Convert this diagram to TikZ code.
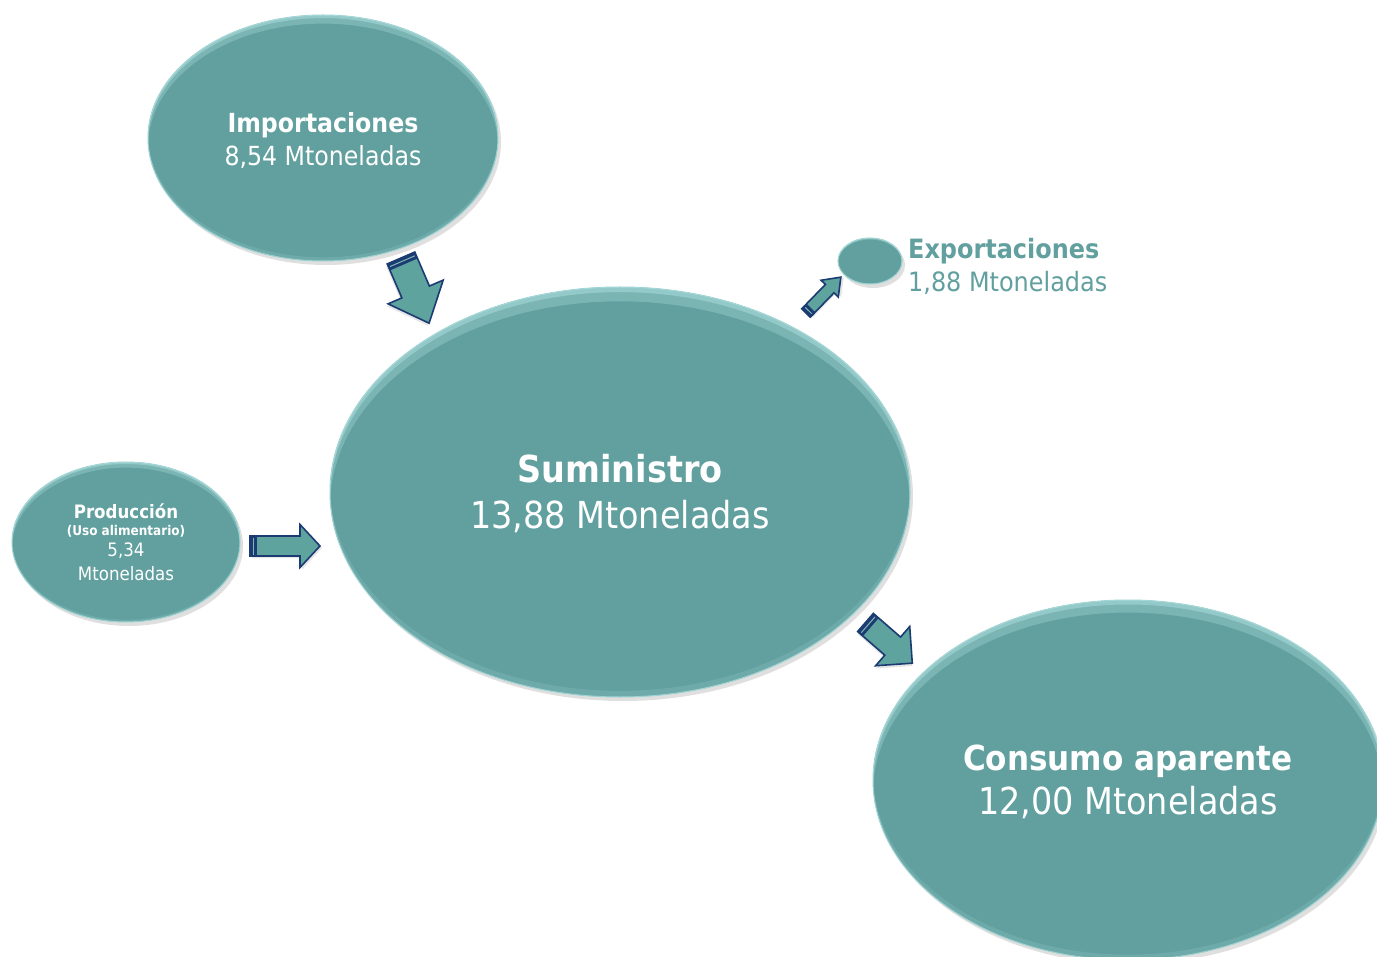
\documentclass[tikz,border=0pt]{standalone}
\usepackage{fontspec}
\setmainfont{DejaVu Sans Condensed}
\usetikzlibrary{shapes.geometric,shadows,calc}
\definecolor{tealf}{HTML}{61A09F}
\definecolor{tealrim}{HTML}{B4E4E4}
\definecolor{navy}{HTML}{1B3B72}
\definecolor{arrowf}{HTML}{5FA39E}
\definecolor{bandlight}{HTML}{7FB8B4}
\newcommand\blkarrow[7]{%
  \begin{scope}[shift={(#1,#2)},rotate=#3]
    \fill[gray!40,opacity=0.5,shift={(2,2)}] (0,-#5) -- (#4-#7,-#5) -- (#4-#7,-#6) -- (#4,0) -- (#4-#7,#6) -- (#4-#7,#5) -- (0,#5) -- cycle;
    \filldraw[fill=arrowf,draw=navy,line width=1.6pt,line join=miter]
      (0,-#5) -- (#4-#7,-#5) -- (#4-#7,-#6) -- (#4,0) -- (#4-#7,#6) -- (#4-#7,#5) -- (0,#5) -- cycle;
    \fill[navy] (0,-#5) rectangle (7,#5);
    \draw[bandlight,line width=1pt] (3.5,-#5+1.5) -- (3.5,#5-1.5);
  \end{scope}}
\newcommand\gloss[3]{% node, rx, ry : light crescents along the top rim
  \begin{scope}
  \clip (#1.center) ellipse [x radius=#2, y radius=#3];
  \fill[tealrim,opacity=0.30,even odd rule]
    (#1.center) ellipse [x radius=#2, y radius=#3]
    ($(#1.center)+(0,0.07*#3)$) ellipse [x radius=#2, y radius=#3];
  \fill[tealrim,opacity=0.45,even odd rule]
    (#1.center) ellipse [x radius=#2, y radius=#3]
    ($(#1.center)+(0,0.025*#3)$) ellipse [x radius=#2, y radius=#3];
  \fill[tealrim,opacity=0.15,even odd rule]
    (#1.center) ellipse [x radius=#2, y radius=#3]
    ($(#1.center)+(0,-0.03*#3)$) ellipse [x radius=#2, y radius=#3];
  \end{scope}}
\begin{document}
\begin{tikzpicture}[x=1pt,y=-1pt,
  bubble/.style={ellipse,inner sep=0pt,fill=tealf,draw=tealrim!70!tealf,line width=1pt,
    drop shadow={shadow xshift=3pt,shadow yshift=-4pt,opacity=0.25}},
  lbl/.style={text=white,align=center,inner sep=0pt}]
\useasboundingbox (0,0) rectangle (1377,957);
\fill[white] (0,0) rectangle (1377,957);

\node[bubble,minimum width=350pt,minimum height=246pt] (imp) at (323,138) {};
\node[bubble,minimum width=228pt,minimum height=160pt] (prod) at (126,542) {};
\node[bubble,minimum width=580pt,minimum height=410pt] (sum) at (620,492) {};
\node[bubble,minimum width=64pt,minimum height=46pt] (exp) at (870,261) {};
\node[bubble,minimum width=510pt,minimum height=360pt] (cons) at (1128,780) {};

\gloss{imp}{175}{123}
\gloss{prod}{114}{80}
\gloss{sum}{290}{205}
\gloss{exp}{32}{23}
\gloss{cons}{255}{180}

\node[lbl,font=\fontsize{26.3}{33}\selectfont] (impt) at ($(imp.center)+(0,3)$)
  {\textbf{Importaciones}\\8,54 Mtoneladas};

\node[lbl,font=\fontsize{18.5}{20}\selectfont\bfseries] (prod1) at (126,511) {Producción};
\node[lbl,font=\fontsize{13.4}{15}\selectfont\bfseries] (prod2) at (126,531) {(Uso alimentario)};
\node[lbl,font=\fontsize{18.5}{20}\selectfont] (prod3) at (126,551) {5,34};
\node[lbl,font=\fontsize{18.5}{20}\selectfont] (prod4) at (126,574) {Mtoneladas};

\node[lbl,font=\fontsize{37.2}{46}\selectfont] (sumt) at ($(sum.center)+(0,2)$)
  {\textbf{Suministro}\\13,88 Mtoneladas};

\node[anchor=west,text=tealf,align=left,inner sep=0pt,
  font=\fontsize{26.6}{33}\selectfont] (expt) at (908,266)
  {\textbf{Exportaciones}\\1,88 Mtoneladas};

\node[lbl,font=\fontsize{37.2}{44}\selectfont] (const) at ($(cons.center)+(0,2)$)
  {{\fontsize{34.5}{44}\selectfont\textbf{Consumo aparente}}\\12,00 Mtoneladas};

% block arrows: x, y, angle, length, shaft half-width, head half-width, head length
\blkarrow{401}{258}{-66.7}{71}{15}{30}{34}
\blkarrow{250}{546}{0}{70}{10}{21.5}{20}
\blkarrow{806}{313}{45.8}{50}{6}{12}{16}
\blkarrow{865.5}{622.5}{-41}{62}{12}{26}{26}
\end{tikzpicture}
\end{document}
